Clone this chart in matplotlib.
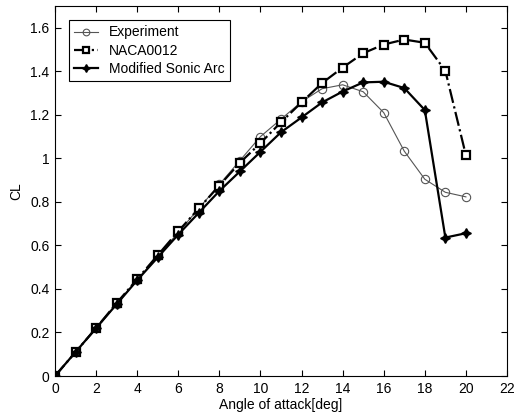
import matplotlib
matplotlib.use("Agg")
import matplotlib.pyplot as plt
import numpy as np

plt.rcParams["font.family"] = ["Liberation Sans", "DejaVu Sans"]
plt.rcParams["font.size"] = 10

alpha = list(range(0, 21))
cl_experiment = [0.0, 0.11, 0.22, 0.33, 0.44, 0.55, 0.66, 0.77, 0.88, 0.99, 1.10,
                 1.18, 1.26, 1.32, 1.338, 1.306, 1.21, 1.033, 0.904, 0.844, 0.823]
cl_naca = [0.0, 0.11, 0.22, 0.335, 0.445, 0.555, 0.665, 0.77, 0.875, 0.98, 1.07,
           1.166, 1.257, 1.346, 1.417, 1.483, 1.523, 1.546, 1.531, 1.402, 1.014]
cl_modified = [0.0, 0.11, 0.22, 0.33, 0.44, 0.545, 0.65, 0.75, 0.85, 0.94, 1.03,
               1.12, 1.188, 1.257, 1.307, 1.349, 1.352, 1.323, 1.222, 0.636, 0.656]

fig = plt.figure(figsize=(5.15, 4.2), dpi=100)
ax = fig.add_axes([55 / 515, 1 - 376 / 420, 452 / 515, 370 / 420])

ax.plot(alpha, cl_experiment, "-", color="#555555", linewidth=0.8,
        marker="o", markersize=6, markerfacecolor="none", markeredgecolor="#555555",
        markeredgewidth=0.8, label="Experiment")
ax.plot(alpha, cl_naca, "-.", color="black", linewidth=1.6,
        marker="s", markersize=6, markerfacecolor="white", markeredgecolor="black",
        markeredgewidth=1.6, label="NACA0012")
ax.plot(alpha, cl_modified, "-", color="black", linewidth=1.6,
        marker=(4, 1, 0), markersize=7, markerfacecolor="black",
        label="Modified Sonic Arc")

ax.set_xlim(0, 22)
ax.set_ylim(0, 1.7)
ax.set_xticks(np.arange(0, 23, 2))
ax.set_yticks([0, 0.2, 0.4, 0.6, 0.8, 1.0, 1.2, 1.4, 1.6])
ax.set_yticklabels(["0", "0.2", "0.4", "0.6", "0.8", "1", "1.2", "1.4", "1.6"])
ax.tick_params(direction="in", top=True, right=True, length=4, pad=4)
ax.set_xlabel("Angle of attack[deg]", labelpad=2)
ax.set_ylabel("CL", labelpad=5)

leg = ax.legend(loc="upper left", fancybox=False, framealpha=1,
                edgecolor="black", borderaxespad=1.0, handlelength=1.7,
                labelspacing=0.3, markerscale=0.8, borderpad=0.4)
leg.get_frame().set_linewidth(0.8)

fig.savefig("out.png", dpi=100)
